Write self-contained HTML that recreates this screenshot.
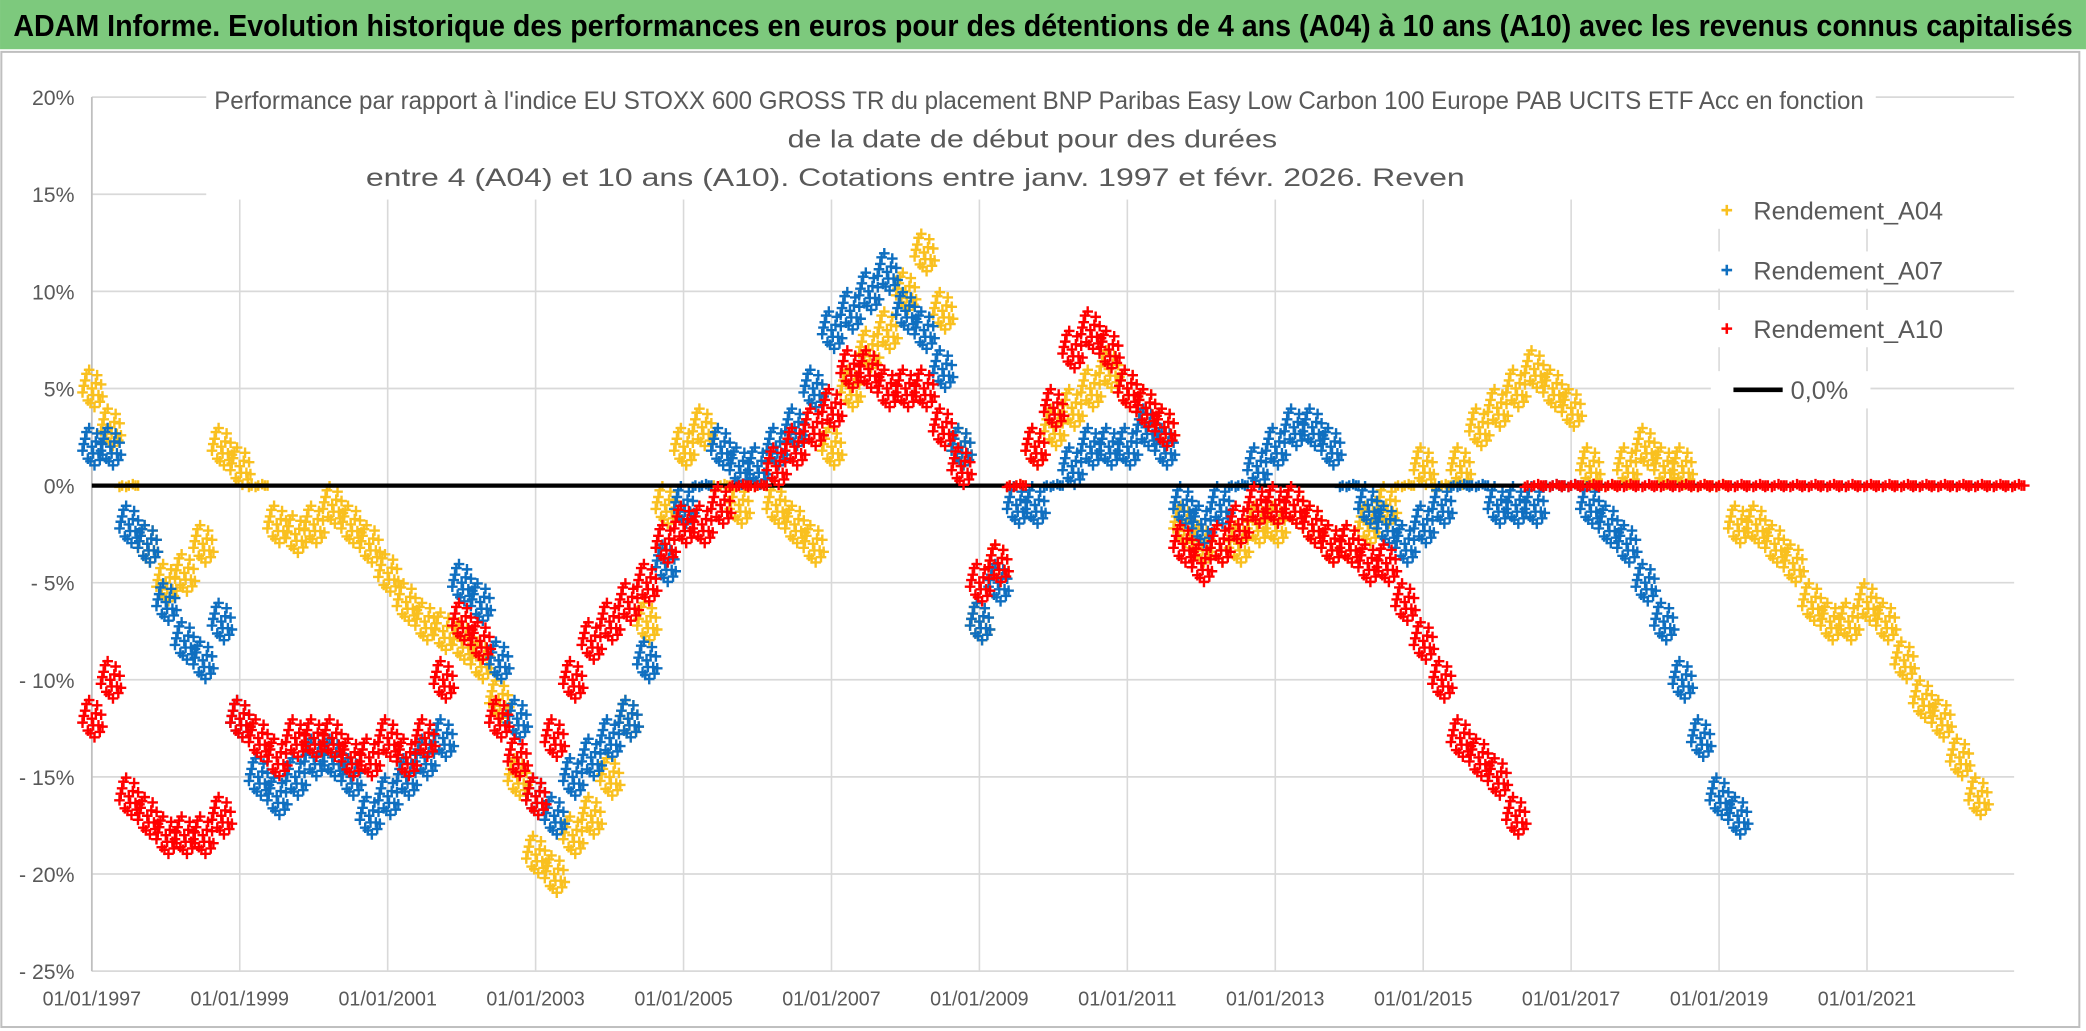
<!DOCTYPE html>
<html><head><meta charset="utf-8"><style>
html,body{margin:0;padding:0;background:#fff;}
svg{display:block;}
text{font-family:"Liberation Sans",sans-serif;}
</style></head><body>
<svg id="chart" width="2086" height="1031" viewBox="0 0 1568 775" xmlns="http://www.w3.org/2000/svg">
<rect x="0" y="0" width="1568" height="775" fill="#fff"/>
<rect x="0" y="0" width="1568" height="37" fill="#7dc97d"/>
<text x="784" y="27" text-anchor="middle" font-size="23" font-weight="bold" fill="#000" textLength="1548" lengthAdjust="spacingAndGlyphs">ADAM Informe. Evolution historique des performances en euros pour des détentions de 4 ans (A04) à 10 ans (A10) avec les revenus connus capitalisés</text>
<rect x="1" y="39" width="1562" height="733" fill="#fff" stroke="#bfbfbf" stroke-width="1.5"/>
<g id="grid"></g>
<g id="series"></g>
<rect x="155" y="62" width="1255" height="88" fill="#fff"/>
<text x="781" y="82" text-anchor="middle" font-size="19" fill="#595959" textLength="1240" lengthAdjust="spacingAndGlyphs">Performance par rapport à l'indice EU STOXX 600 GROSS TR  du placement BNP Paribas Easy Low Carbon 100 Europe PAB UCITS ETF Acc en fonction</text>
<text x="776" y="111" text-anchor="middle" font-size="19" fill="#595959" textLength="368" lengthAdjust="spacingAndGlyphs">de la date de début pour des durées</text>
<text x="688" y="140" text-anchor="middle" font-size="19" fill="#595959" textLength="826" lengthAdjust="spacingAndGlyphs">entre 4 (A04) et 10 ans (A10). Cotations entre janv. 1997 et févr. 2026. Reven</text>
<g id="legend"></g>
</svg>
<script>
const startYear = 1997;
const step = 0.25;
const yTicks = [20, 15, 10, 5, 0, -5, -10, -15, -20, -25];
const yTickLabels = ["20%","15%","10%","5%","0%","- 5%","- 10%","- 15%","- 20%","- 25%"];
const xTickYears = [1997,1999,2001,2003,2005,2007,2009,2011,2013,2015,2017,2019,2021];
const xTickLabels = ["01/01/1997","01/01/1999","01/01/2001","01/01/2003","01/01/2005","01/01/2007","01/01/2009","01/01/2011","01/01/2013","01/01/2015","01/01/2017","01/01/2019","01/01/2021"];
const seriesNames = ["Rendement_A04","Rendement_A07","Rendement_A10"];
const a04 = [5,3,0,-3,-5,-4.5,-3,2,1,0,-2,-2.5,-2,-1,-2,-3,-4.5,-6,-7,-7.5,-8,-9,-11,-15,-19,-20,-18,-17,-15,-12,-7,-1,2,3,0,-1,0,-1,-2,-3,2,5,7,8,10,12,9,2,-7,-4,0,2,3,4,5,6,5,4,3,-2,-3,-3,-3,-2,-2,-1,-2,-3,-3,-2,-1,0,1,0,1,3,4,5,6,5,4,1,0,1,2,1,1,0,0,-2,-2,-3,-4,-6,-7,-7,-6,-7,-9,-11,-12,-14,-16];
const a07 = [2,2,-2,-3,-6,-8,-9,-7,-12,-15,-16,-15,-14,-14,-15,-17,-16,-15,-14,-13,-5,-6,-9,-12,-16,-17,-15,-14,-13,-12,-9,-4,-1,0,2,1,1,2,3,5,8,9,10,11,9,8,6,2,-7,-5,-1,-1,0,1,2,2,2,3,2,-1,-2,-1,0,1,2,3,3,2,0,-1,-2,-3,-2,-1,0,0,-1,-1,-1,0,0,-1,-2,-3,-5,-7,-10,-13,-16,-17];
const a10 = [-12,-10,-16,-17,-18,-18,-18,-17,-12,-13,-14,-13,-13,-13,-14,-14,-13,-14,-13,-10,-7,-8,-12,-14,-16,-13,-10,-8,-7,-6,-5,-3,-2,-2,-1,0,0,1,2,3,4,6,6,5,5,5,3,1,-5,-4,0,2,4,7,8,7,5,4,3,-3,-4,-3,-2,-1,-1,-1,-2,-3,-3,-4,-4,-6,-8,-10,-13,-14,-15,-17,0,0,0,0,0,0,0,0,0,0,0,0,0,0,0,0,0,0,0,0,0,0,0,0,0,0,0];
const colors = ["#f9c01f","#0f6fc0","#ff0000"];

const NS = "http://www.w3.org/2000/svg";
const X0 = 69, XPY = 55.6, Y0 = 365, YPP = 14.6, XR = 1514;
function xs(t){ return X0 + XPY*(t - startYear); }
function ys(v){ return Y0 - v*YPP; }
function mk(tag, attrs, parent){ const e = document.createElementNS(NS, tag); for (const k in attrs) e.setAttribute(k, attrs[k]); parent.appendChild(e); return e; }

const grid = document.getElementById('grid');
yTicks.forEach((v,i)=>{
  const l = mk('line',{x1:X0,x2:XR,y1:ys(v),y2:ys(v),stroke:'#d9d9d9','stroke-width':1.3},grid);
  
  
  const t = mk('text',{x:56,y:ys(v)+6,'text-anchor':'end','font-size':16,fill:'#595959'},grid);
  t.textContent = yTickLabels[i];
  
  
});
xTickYears.forEach((yr,i)=>{
  const x = xs(yr);
  const l = mk('line',{x1:x,x2:x,y1:ys(20),y2:ys(-25),stroke:'#d9d9d9','stroke-width':1.2},grid);
  
  
  const t = mk('text',{x:x,y:756,'text-anchor':'middle','font-size':15,fill:'#595959',textLength:74,lengthAdjust:'spacingAndGlyphs'},grid);
  t.textContent = xTickLabels[i];
  
  
});
mk('line',{x1:X0,x2:X0,y1:ys(20),y2:ys(-25),stroke:'#bfbfbf','stroke-width':1.3},grid);

const cluster = [[0,0],[-5,-6],[5,5],[-3,9],[4,-10],[-7,3],[7,-3],[2,14],[-2,-14],[1,5],[-6,-2],[6,10],[-4,-11],[3,-4],[-1,11],[8,6]];
const flat = [[0,0],[-5,0],[5,0],[-2,1],[3,-1],[-7,1],[7,0]];
const series = document.getElementById('series');
function plus(x,y){ return 'M'+(x-4)+' '+y+'h8M'+x+' '+(y-4)+'v8'; }
function drawSeries(arr, color, name){
  const g = mk('g',{},series);
  
  
  let d = '';
  arr.forEach((v,i)=>{
    const x = xs(startYear + i*step), y = ys(v);
    const pat = v === 0 ? flat : cluster;
    pat.forEach(o=>{ d += plus(x+o[0], y+o[1]); });
  });
  mk('path',{d:d,stroke:color,'stroke-width':1.8,fill:'none'},g);
}
drawSeries(a04, colors[0], 'series-a04');
drawSeries(a07, colors[1], 'series-a07');
const zl = mk('line',{x1:X0,x2:XR,y1:ys(0),y2:ys(0),stroke:'#000','stroke-width':3.2},series);


drawSeries(a10, colors[2], 'series-a10');

const legend = document.getElementById('legend');
const legY = [158,203,247];
seriesNames.forEach((n,i)=>{
  const g = mk('g',{},legend);
  
  
  mk('rect',{x:1286,y:legY[i]-14,width:230,height:28,fill:'#fff'},g);
  mk('path',{d:plus(1298,legY[i]),stroke:colors[i],'stroke-width':1.9},g);
  const t = mk('text',{x:1318,y:legY[i]+7,'font-size':19,fill:'#595959'},g);
  t.textContent = n;
});
const gz = mk('g',{},legend);


mk('rect',{x:1286,y:279,width:120,height:28,fill:'#fff'},gz);
mk('line',{x1:1303,x2:1340,y1:293,y2:293,stroke:'#000','stroke-width':3.5},gz);
const tz = mk('text',{x:1346,y:300,'font-size':19,fill:'#595959'},gz);
tz.textContent = '0,0%';
</script>
</body></html>
